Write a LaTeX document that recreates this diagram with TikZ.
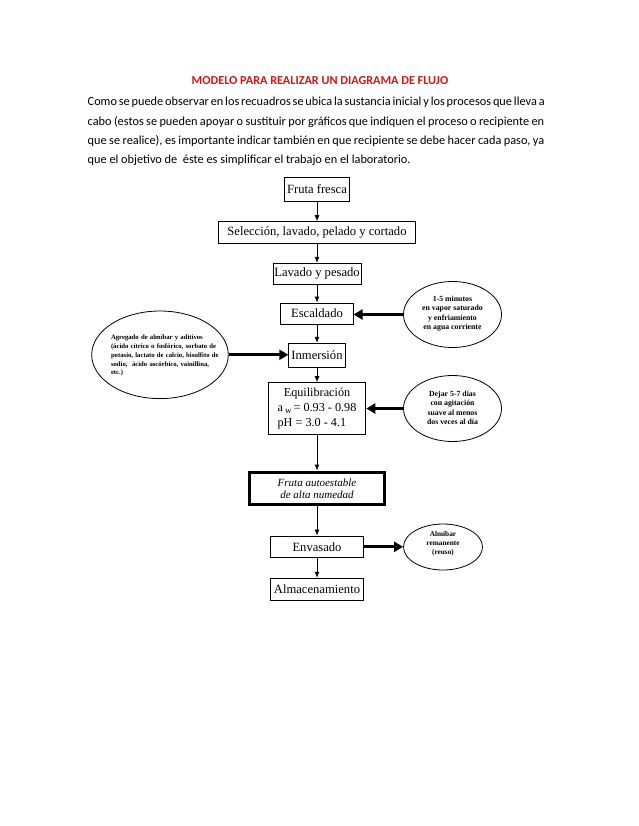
\documentclass[tikz,border=0pt]{standalone}
\usepackage{fontspec}
\setmainfont{Liberation Serif}
\newfontfamily\calib{Carlito}
\usetikzlibrary{arrows.meta,shapes.geometric}
\definecolor{titlered}{RGB}{210,20,20}
\begin{document}
\begin{tikzpicture}[x=1pt,y=-1pt,
  box/.style={draw, line width=0.9pt, inner sep=0pt, font=\fontsize{12.6}{14}\selectfont},
  ell/.style={draw, ellipse, line width=0.8pt, inner sep=0pt},
  etext/.style={inner sep=0pt, align=center, font=\bfseries\fontsize{7.8}{9.5}\selectfont},
  para/.style={inner sep=0pt, anchor=base west, font=\calib\fontsize{12.3}{13}\selectfont},
  main/.style={-{Latex[length=6pt,width=5pt]}, line width=0.9pt},
  side/.style={-{Triangle[length=9pt,width=10pt]}, line width=3pt}]
\useasboundingbox (0,0) rectangle (638,826);

% title and paragraph
\node[inner sep=0pt, anchor=base, text=titlered, font=\calib\bfseries\fontsize{12.2}{13}\selectfont] (title) at (320,84.4) {MODELO PARA REALIZAR UN DIAGRAMA DE FLUJO};
\node[para] (p1) at (87.5,106) {\makebox[456.5pt][s]{Como se puede observar en los recuadros se ubica la sustancia inicial y los procesos que lleva a}};
\node[para] (p2) at (87.5,125.3) {\makebox[456.5pt][s]{cabo (estos se pueden apoyar o sustituir por gráficos que indiquen el proceso o recipiente en}};
\node[para] (p3) at (87.5,144.5) {\makebox[456.5pt][s]{que se realice), es importante indicar también en que recipiente se debe hacer cada paso, ya}};
\node[para] (p4) at (87.5,163.5) {que el objetivo de \ éste es simplificar el trabajo en el laboratorio.};

% main boxes
\node[box, minimum width=65pt, minimum height=24.4pt] (n1) at (317,189.5) {Fruta fresca};
\node[box, minimum width=197.3pt, minimum height=21.6pt] (n2) at (317,232.5) {Selección, lavado, pelado y cortado};
\node[box, minimum width=88pt, minimum height=20.7pt] (n3) at (317,273.7) {Lavado y pesado};
\node[box, minimum width=72.3pt, minimum height=21pt] (n4) at (317,313.5) {Escaldado};
\node[box, minimum width=56.5pt, minimum height=24pt] (n5) at (317,355.3) {Inmersión};
\node[box, minimum width=97.7pt, minimum height=51.3pt, font=\fontsize{12.2}{15}\selectfont] (n6) at (317,408.3)
  {\begin{tabular}{@{}l@{}}\multicolumn{1}{@{}c@{}}{Equilibración}\\ a\,\raisebox{-2.5pt}{\fontsize{9}{9}\selectfont w}\,= 0.93 - 0.98\\ pH = 3.0 - 4.1\end{tabular}};
\node[box, line width=2.2pt, minimum width=135.7pt, minimum height=33.3pt, align=center, font=\itshape\fontsize{11}{12}\selectfont] (n7) at (317,488.3) {Fruta autoestable\\de alta numedad};
\draw[line width=0.6pt] ([xshift=2.6pt,yshift=-2.6pt]n7.north west) rectangle ([xshift=-2.6pt,yshift=2.6pt]n7.south east);
\node[box, minimum width=93.3pt, minimum height=21.7pt] (n8) at (317,546.8) {Envasado};
\node[box, minimum width=92.6pt, minimum height=22.4pt] (n9) at (317,589.5) {Almacenamiento};

% ellipses
\node[ell, minimum width=98pt, minimum height=66pt] (e1) at (452.5,314.5) {};
\node[etext] (t1) at (452.5,313.5) {1-5 minutos\\en vapor saturado\\y enfriamiento\\en agua corriente};
\node[ell, minimum width=136.6pt, minimum height=87.6pt] (eL) at (160,354.8) {};
\node[inner sep=0pt, text width=108pt, align=left, font=\bfseries\fontsize{6.7}{8.8}\selectfont] (tL) at (165,355.7)
  {Agregado de almíbar y aditivos\\(ácido cítrico o fosfórico, sorbato de\\potasio, lactato de calcio, bisulfito de\\sodio, \ ácido ascórbico, vainillina,\\etc.)};
\node[ell, minimum width=98pt, minimum height=66pt] (e2) at (452.5,408.5) {};
\node[etext] (t2) at (452.5,407.7) {Dejar 5-7 días\\con agitación\\suave al menos\\dos veces al día};
\node[ell, minimum width=79pt, minimum height=46pt] (e3) at (443,547) {};
\node[etext, font=\bfseries\fontsize{7.3}{8.7}\selectfont] (t3) at (443,543.8) {Almíbar\\remanente\\(reuso)};

% connectors
\draw[main] (n1) -- (n2);
\draw[main] (n2) -- (n3);
\draw[main] (n3) -- (n4);
\draw[main] (n4) -- (n5);
\draw[main] (n5) -- (n6);
\draw[main] (n6) -- (n7);
\draw[main] (n7) -- (n8);
\draw[main] (n8) -- (n9);
\draw[side] (e1.west) -- (e1.west -| n4.east);
\draw[side] (eL.east) -- (eL.east -| n5.west);
\draw[side] (e2.west) -- (e2.west -| n6.east);
\draw[side] (n8.east) -- (n8.east -| e3.west);
\end{tikzpicture}
\end{document}
